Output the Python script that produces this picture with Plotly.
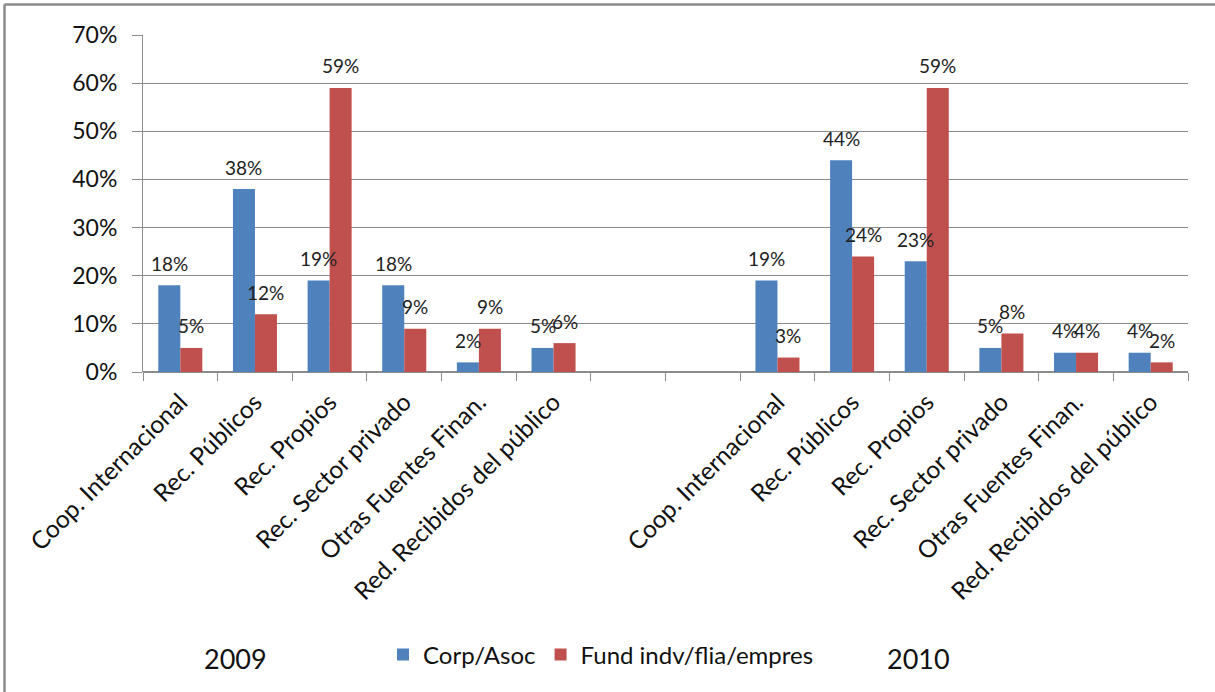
import plotly.graph_objects as go

categories = ["Coop. Internacional", "Rec. Públicos", "Rec. Propios", "Rec. Sector privado",
              "Otras Fuentes Finan.", "Red. Recibidos del público", "", "",
              "Coop. Internacional", "Rec. Públicos", "Rec. Propios", "Rec. Sector privado",
              "Otras Fuentes Finan.", "Red. Recibidos del público"]
corp_asoc = [18, 38, 19, 18, 2, 5, None, None, 19, 44, 23, 5, 4, 4]
fund_indv = [5, 12, 59, 9, 9, 6, None, None, 3, 24, 59, 8, 4, 2]
series_names = ["Corp/Asoc", "Fund indv/flia/empres"]
year_labels = ["2009", "2010"]
yticks = [0, 10, 20, 30, 40, 50, 60, 70]

BLUE = "#4F81BD"
RED = "#C0504D"
GRID = "#8C8C8C"
FONT = "Lato"

W, H = 1215, 692
L, R, T, B = 143, 27, 35, 320
PW, PH = W - L - R, H - T - B

xs = list(range(len(categories)))

fig = go.Figure()
fig.add_trace(go.Bar(x=xs, y=corp_asoc, name=series_names[0], marker_color=BLUE,
                     marker_line_width=0))
fig.add_trace(go.Bar(x=xs, y=fund_indv, name=series_names[1], marker_color=RED,
                     marker_line_width=0))

annotations = []
for vals, shift in ((corp_asoc, -11), (fund_indv, 11)):
    for x, v in zip(xs, vals):
        if v is None:
            continue
        annotations.append(dict(x=x, y=v, xref="x", yref="y", text=f"{v}%",
                                showarrow=False, xshift=shift, yshift=22,
                                font=dict(family=FONT, size=19, color="#222222")))

for lbl, px in zip(year_labels, (235, 918)):
    annotations.append(dict(x=(px - L) / PW, y=(H - B - 658) / PH, xref="paper", yref="paper",
                            text=lbl, showarrow=False, xanchor="center", yanchor="middle",
                            font=dict(family=FONT, size=27, color="#111111")))

left_x = (4.5 - L) / PW
top_y = (H - B - 4.5) / PH
right_x = (W - L) / PW
shapes = [
    dict(type="line", xref="paper", yref="paper", x0=left_x, x1=left_x, y0=-2, y1=top_y,
         line=dict(color="#8A8A8A", width=2.5)),
    dict(type="line", xref="paper", yref="paper", x0=left_x, x1=right_x, y0=top_y, y1=top_y,
         line=dict(color="#8A8A8A", width=2.5)),
]

fig.update_layout(
    width=W, height=H,
    margin=dict(l=L, r=R, t=T, b=B, autoexpand=False),
    paper_bgcolor="white", plot_bgcolor="white",
    barmode="group", bargap=0.41, bargroupgap=0,
    font=dict(family=FONT, color="#111111"),
    showlegend=True,
    legend=dict(orientation="h", xref="container", yref="container", x=383 / W, y=1 - 655 / H,
                xanchor="left", yanchor="middle", font=dict(family=FONT, size=24),
                itemwidth=30, tracegroupgap=0, traceorder="normal"),
    annotations=annotations,
    shapes=shapes,
    xaxis=dict(range=[-0.5, len(categories) - 0.5], tickmode="array", tickvals=xs,
               ticktext=categories, tickangle=-45, ticks="", showgrid=False,
               showline=False, zeroline=False, ticklabelstandoff=10,
               tickfont=dict(family=FONT, size=24.5, color="#111111"),
               minor=dict(tick0=-0.5, dtick=1, ticks="outside", ticklen=8,
                          tickcolor=GRID, tickwidth=1, showgrid=False)),
    yaxis=dict(range=[0, 70], tickvals=yticks, ticktext=[f"{t}%" for t in yticks],
               showgrid=True, gridcolor=GRID, gridwidth=1, showline=True, linecolor=GRID,
               linewidth=1, ticks="outside", ticklen=10, tickcolor=GRID, zeroline=True,
               zerolinecolor=GRID, zerolinewidth=1.5, ticklabelstandoff=10,
               tickfont=dict(family=FONT, size=23, color="#111111")),
)

fig.write_html("out.html", config={"displayModeBar": False},
               post_script="document.body.style.margin='0';")
